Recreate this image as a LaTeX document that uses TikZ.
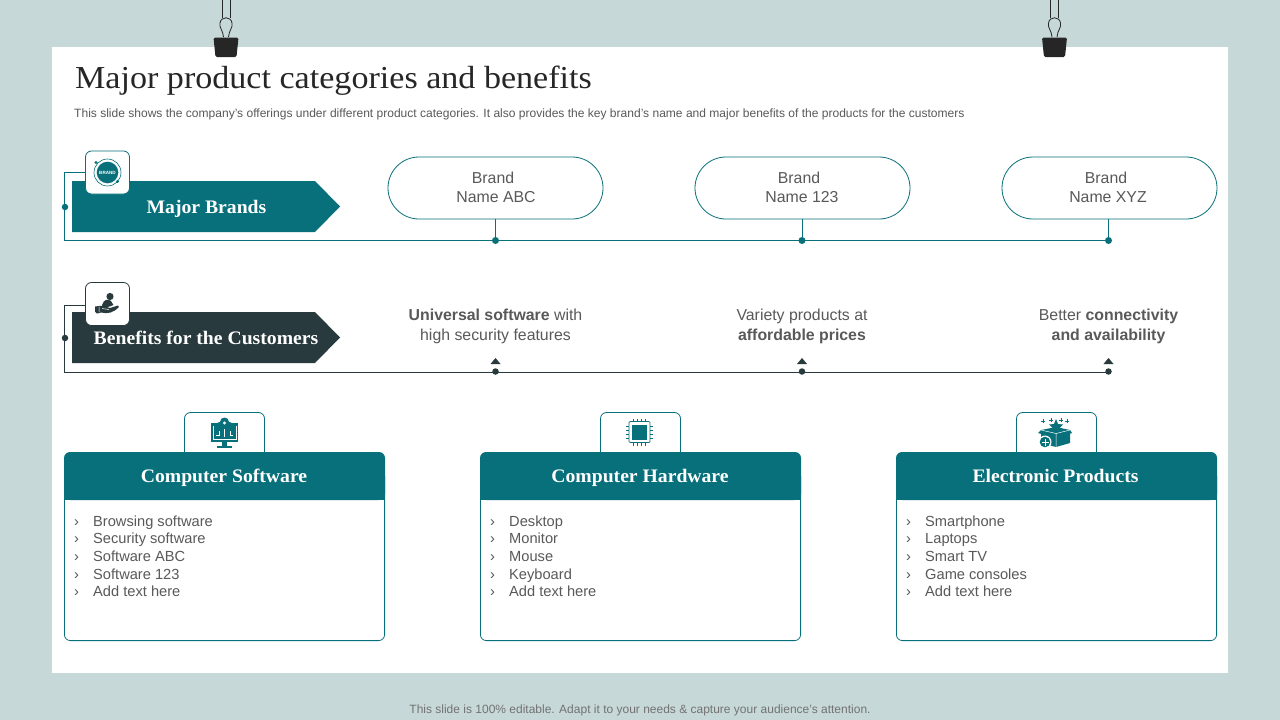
\documentclass[tikz,border=0pt]{standalone}
\usepackage{fontspec}
\setmainfont{Liberation Sans}
\newfontfamily\headfont[FakeStretch=1.065]{Liberation Serif}
\newfontfamily\cardfont[FakeStretch=1.03]{Liberation Serif}
\definecolor{bgc}{HTML}{C7D8D8}
\definecolor{teal}{HTML}{08707A}
\definecolor{darkc}{HTML}{283A3D}
\definecolor{txt}{HTML}{595959}
\definecolor{clipc}{HTML}{262626}
\tikzset{
  txtnode/.style={inner sep=0pt,text=txt,align=center,font=\fontsize{15.85}{19.3}\selectfont},
  pill/.style={draw=teal,line width=0.8pt,fill=white,rounded corners=31pt,minimum width=215pt,minimum height=62pt,inner sep=0pt},
  iconbox/.style={draw=#1,line width=0.8pt,fill=white,rounded corners=6pt,minimum width=44pt,minimum height=43pt,inner sep=0pt},
  dot/.style={circle,fill=#1,inner sep=0pt,minimum size=7pt},
  banner/.style={inner sep=0pt,anchor=base,text=white,font=\cardfont\bfseries\fontsize{19.1}{20}\selectfont},
  listnode/.style={inner sep=0pt,anchor=base west,text=txt,font=\fontsize{14.65}{17}\selectfont},
  tabbox/.style={draw=teal,line width=0.8pt,fill=white,rounded corners=6pt},
}
\newcommand{\clipper}[1]{%
  \begin{scope}[shift={(#1,0)}]
    \draw[clipc,line width=0.9pt] (-4,0) -- (-4,18) (4,0) -- (4,18);
    \draw[clipc,line width=0.8pt] (-2.5,37) .. controls (-3,30) and (-7,28) .. (-6,23) .. controls (-5,16) and (5,16) .. (6,23) .. controls (7,28) and (3,30) .. (2.5,37);
    \fill[clipc,rounded corners=1.5pt] (-12.5,37.5) -- (12.5,37.5) -- (10.5,57) -- (-10.5,57) -- cycle;
  \end{scope}}
\newcommand{\listblock}[7]{% x, name, five items
  \foreach \yy/\tt in {526/#3,543.7/#4,561.3/#5,579/#6,596.7/#7}{
    \node[listnode] at (#1+10,\yy) {›};
    \node[listnode] at (#1+29,\yy) {\tt};
  }}
\newcommand{\card}[4]{% x, id, title centre, title
  \draw[teal,line width=0.8pt,fill=white,rounded corners=6pt] (#1+.4,470) -- (#1+.4,640.6) -- (#1+320.6,640.6) -- (#1+320.6,470) -- cycle;
  \fill[teal,rounded corners=6pt] (#1,500) -- (#1,452) -- (#1+321,452) -- (#1+321,500) -- cycle;
  \fill[teal] (#1,490) rectangle (#1+321,500);
  \node[banner] (title#2) at (#3,482.5) {#4};
}
\begin{document}
\begin{tikzpicture}[x=1pt,y=-1pt]
\useasboundingbox (0,0) rectangle (1280,720);
\fill[bgc] (0,0) rectangle (1280,720);
\fill[white] (52,47) rectangle (1228,673);
\clipper{226}
\clipper{1054.5}

\node[inner sep=0pt,anchor=base west,text=clipc,font=\headfont\fontsize{32}{34}\selectfont] (title) at (75,88) {Major product categories and benefits};
\node[inner sep=0pt,anchor=base west,text=txt,font=\fontsize{12.04}{14}\selectfont] (sub) at (74,117) {This slide shows the company’s offerings under different product categories. It also provides the key brand’s name and major benefits of the products for the customers};
\node[inner sep=0pt,anchor=base,text=txt!85!white,font=\fontsize{12}{14}\selectfont] (foot) at (640,713) {This slide is 100\% editable. Adapt it to your needs \& capture your audience’s attention.};

% Row 1
\fill[teal] (72,181) -- (315,181) -- (340,206.5) -- (315,232) -- (72,232) -- cycle;
\node[banner] (b1) at (206.5,213) {Major Brands};
\node[pill] (p1) at (495.5,188) {};
\node[pill] (p2) at (802.5,188) {};
\node[pill] (p3) at (1109.5,188) {};
\node[txtnode] (l1a) at (493,178) {Brand};
\node[txtnode] (l1b) at (496,197) {Name ABC};
\node[txtnode] (l2a) at (799,178) {Brand};
\node[txtnode] (l2b) at (802,197) {Name 123};
\node[txtnode] (l3a) at (1106,178) {Brand};
\node[txtnode] (l3b) at (1108,197) {Name XYZ};
\coordinate (c1) at (64.5,172.5);
\coordinate (c2) at (64.5,240.5);
\coordinate (e3) at (1108.5,240.5);
\node[dot=teal,minimum size=6.5pt] (d0) at (65,207) {};
\node[dot=teal] (d1) at (495.5,240.5) {};
\node[dot=teal] (d2) at (802,240.5) {};
\node[dot=teal] (d3) at (1108.5,240.5) {};
\draw[teal,line width=0.9pt] (86,172.5) -- (c1) -- (c2) -- (e3);
\draw[teal,line width=0.9pt] (p1.south) -- (d1);
\draw[teal,line width=0.9pt] (d2 |- p2.south) -- (d2);
\draw[teal,line width=0.9pt] (d3 |- p3.south) -- (d3);
\node[iconbox=teal] (i1) at (107.5,172.5) {};
\draw[teal,line width=0.6pt] (107.5,172.5) circle (13.5);
\fill[teal] (107.5,172.5) circle (10.8);
\node[inner sep=0pt,text=white,font=\bfseries\fontsize{4.6}{5}\selectfont] at (107.5,172.5) {BRAND};
\fill[teal] (96,162.5) circle (1.6) (117.5,181.5) circle (1.6);

% Row 2
\fill[darkc] (72,312) -- (315,312) -- (340,337.5) -- (315,363) -- (72,363) -- cycle;
\node[banner] (b2) at (206,344) {Benefits for the Customers};
\node[txtnode] (t1) at (495.5,326.5) {\textbf{Universal software} with\\high security features};
\node[txtnode] (t2) at (802,326.5) {Variety products at\\\textbf{affordable prices}};
\node[txtnode] (t3) at (1108.5,326.5) {Better \textbf{connectivity}\\\textbf{and availability}};
\coordinate (f1) at (64.5,305);
\coordinate (f2) at (64.5,372.5);
\coordinate (g3) at (1108.5,372.5);
\draw[darkc,line width=0.9pt] (86,305) -- (f1) -- (f2) -- (g3);
\node[dot=darkc,minimum size=6.5pt] (e0) at (65,338) {};
\foreach \n/\x in {1/495.5,2/802,3/1108.5}{
  \node[dot=darkc,minimum size=6.5pt] (e\n) at (\x,371.5) {};
  \fill[darkc] (\x-5,364) -- (\x,358) -- (\x+5,364) -- cycle;
}
\node[iconbox=darkc] (i2) at (107.5,304) {};
% hand and person icon
\fill[darkc] (110,296.5) circle (3.6);
\fill[darkc] (102,305) .. controls (104,299) and (108,298.5) .. (111,301) -- (113.5,305) -- (108,307) -- (103,307) -- cycle;
\fill[darkc] (95,306.5) -- (99,306) .. controls (103,305) and (107,307.5) .. (110,308) -- (118,305.5) -- (119,307) .. controls (113,313) and (108,314) .. (101,312.5) -- (97,313.5) -- (95,311.5) -- cycle;
\draw[white,line width=0.5pt] (99,306.5) -- (99,312) (102,308.5) -- (109,309.5);

% Cards
\draw[tabbox] (184.5,452) -- (184.5,412.5) -- (264.5,412.5) -- (264.5,452);
\draw[tabbox] (600.5,452) -- (600.5,412.5) -- (680.5,412.5) -- (680.5,452);
\draw[tabbox] (1016.5,452) -- (1016.5,412.5) -- (1096.5,412.5) -- (1096.5,452);
\card{64}{A}{224}{Computer Software}
\card{480}{B}{640}{Computer Hardware}
\card{896}{C}{1055.5}{Electronic Products}
\listblock{64}{A}{Browsing software}{Security software}{Software ABC}{Software 123}{Add text here}
\listblock{480}{B}{Desktop}{Monitor}{Mouse}{Keyboard}{Add text here}
\listblock{896}{C}{Smartphone}{Laptops}{Smart TV}{Game consoles}{Add text here}

% software icon
\fill[teal] (210.5,423) rectangle (238,442);
\fill[teal] (224.5,422) circle (4.5) (219.5,425) circle (3) (229.5,425) circle (3);
\fill[white] (224.5,423) circle (1.6);
\fill[teal] (222,442) rectangle (227,446);
\fill[teal] (217,446) rectangle (232,448);
\draw[white,line width=0.5pt] (213,426) -- (213,439.5) -- (236,439.5) -- (236,426)
  (219,431) -- (219,435) -- (216,435) (230,431) -- (230,435) -- (233,435) (224.5,429) -- (224.5,437);

% chip icon
\fill[teal] (632,424.5) rectangle (647,439.5);
\draw[teal,line width=0.7pt,rounded corners=1pt] (629,421.5) rectangle (650,442.5);
\foreach \d in {-6,-2,2,6}{
  \draw[teal,line width=0.7pt] (639.5+\d,418.5) -- (639.5+\d,421.5) (639.5+\d,442.5) -- (639.5+\d,445.5)
    (626,432+\d) -- (629,432+\d) (650,432+\d) -- (653,432+\d);
}

% box icon
\fill[teal] (1041,430) -- (1056,427) -- (1070,430) -- (1070,443) -- (1056,447) -- (1041,443) -- cycle;
\fill[teal] (1041,430) -- (1056,433.5) -- (1052,437) -- (1038,433) -- cycle;
\fill[teal] (1070,430) -- (1056,433.5) -- (1060,437) -- (1072,433) -- cycle;
\draw[white,line width=0.5pt] (1056,433.5) -- (1056,447) (1041,430) -- (1056,433.5) -- (1070,430);
\fill[teal] (1056,419) -- (1058,424) -- (1063,424.5) -- (1059.5,428) -- (1056,431) -- (1052.5,428) -- (1049,424.5) -- (1054,424) -- cycle;
\foreach \px/\py in {1043/421,1051/420,1061/420,1067/421}{
  \draw[teal,line width=0.7pt] (\px-1.7,\py) -- (\px+1.7,\py) (\px,\py-1.7) -- (\px,\py+1.7);
}
\fill[white] (1045,442) circle (6.5);
\fill[teal] (1045,442) circle (5.3);
\draw[white,line width=0.8pt] (1041.5,442) -- (1048.5,442) (1045,438.5) -- (1045,445.5);
\end{tikzpicture}
\end{document}
